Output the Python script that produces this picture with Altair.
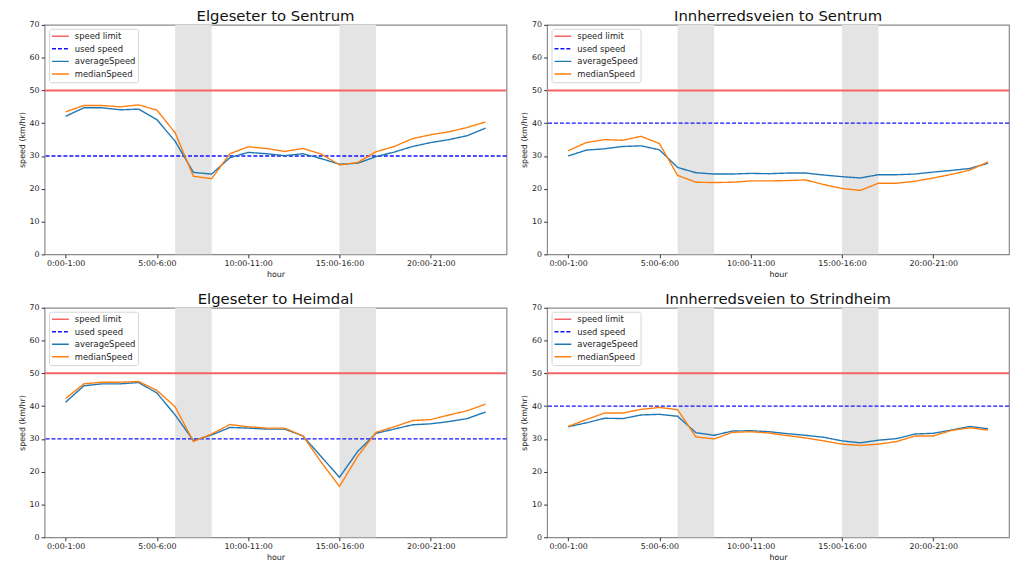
import altair as alt
import pandas as pd

HOURS = list(range(24))
HOUR_LABELS = ["0:00-1:00", "1:00-2:00", "2:00-3:00", "3:00-4:00", "4:00-5:00",
               "5:00-6:00", "6:00-7:00", "7:00-8:00", "8:00-9:00", "9:00-10:00",
               "10:00-11:00", "11:00-12:00", "12:00-13:00", "13:00-14:00",
               "14:00-15:00", "15:00-16:00", "16:00-17:00", "17:00-18:00",
               "18:00-19:00", "19:00-20:00", "20:00-21:00", "21:00-22:00",
               "22:00-23:00", "23:00-24:00"]
TICK_HOURS = [0, 5, 10, 15, 20]
SERIES = ["speed limit", "used speed", "averageSpeed", "medianSpeed"]
SPEED_LIMIT = 50
SHADE_START = [6, 15]
SHADE_END = [8, 17]

TITLES = ["Elgeseter to Sentrum", "Innherredsveien to Sentrum",
          "Elgeseter to Heimdal", "Innherredsveien to Strindheim"]
USED_SPEED = [30, 40, 30, 40]

AVG_ELG_SEN = [42.1, 44.7, 44.7, 44.1, 44.3, 41.1, 34.5, 25.0, 24.5, 29.5, 31.1, 30.7,
               30.1, 30.7, 29.2, 27.5, 27.8, 29.8, 31.2, 32.9, 34.1, 35.0, 36.2, 38.5]
MED_ELG_SEN = [43.5, 45.4, 45.4, 45.0, 45.6, 44.0, 37.1, 23.8, 23.1, 30.7, 32.8, 32.3,
               31.4, 32.3, 30.6, 27.3, 28.0, 31.3, 32.9, 35.3, 36.5, 37.4, 38.7, 40.4]
AVG_INN_SEN = [30.0, 31.8, 32.2, 32.9, 33.1, 31.9, 26.5, 24.9, 24.5, 24.5, 24.7, 24.6,
               24.8, 24.8, 24.2, 23.7, 23.3, 24.3, 24.3, 24.5, 25.1, 25.6, 26.2, 27.8]
MED_INN_SEN = [31.6, 34.1, 35.0, 34.8, 36.0, 33.8, 24.1, 22.0, 21.9, 22.0, 22.4, 22.4,
               22.5, 22.7, 21.3, 20.1, 19.5, 21.7, 21.7, 22.3, 23.3, 24.4, 25.7, 28.2]
AVG_ELG_HEI = [41.2, 46.2, 46.8, 46.8, 47.2, 44.0, 37.3, 29.5, 31.2, 33.5, 33.3, 33.0,
               33.0, 30.9, 24.6, 18.3, 26.2, 31.7, 33.0, 34.3, 34.6, 35.3, 36.2, 38.2]
MED_ELG_HEI = [42.3, 46.8, 47.3, 47.3, 47.5, 44.8, 39.8, 29.2, 31.5, 34.4, 33.7, 33.3,
               33.3, 30.9, 22.9, 15.5, 24.7, 32.0, 33.7, 35.6, 35.9, 37.3, 38.6, 40.6]
AVG_INN_STR = [33.7, 34.9, 36.3, 36.2, 37.3, 37.5, 36.9, 31.9, 31.1, 32.4, 32.5, 32.2,
               31.6, 31.1, 30.5, 29.4, 28.8, 29.6, 30.1, 31.5, 31.7, 32.7, 33.8, 33.1]
MED_INN_STR = [33.8, 35.9, 37.9, 37.9, 39.0, 39.6, 38.9, 30.6, 30.0, 32.0, 32.2, 31.8,
               31.0, 30.3, 29.4, 28.4, 28.0, 28.4, 29.2, 30.9, 30.9, 32.6, 33.4, 32.7]

AVGS = [AVG_ELG_SEN, AVG_INN_SEN, AVG_ELG_HEI, AVG_INN_STR]
MEDS = [MED_ELG_SEN, MED_INN_SEN, MED_ELG_HEI, MED_INN_STR]

W, H = 467, 232
FONT = "DejaVu Sans"
COLORS = ["#f46464", "#1010ff", "#1f77b4", "#ff7f0e"]
DASHES = [[1, 0], [4, 2], [1, 0], [1, 0]]

label_expr = "[" + ",".join("'" + s + "'" for s in HOUR_LABELS) + "][datum.value]"


def legend():
    return alt.Legend(title=None, orient="none", legendX=4.5, legendY=4,
                      symbolType="stroke", symbolSize=289, symbolStrokeWidth=1.5,
                      clipHeight=11, rowPadding=1.7, padding=2, labelOffset=5,
                      labelFont=FONT, labelFontSize=8.5, labelColor="#222",
                      fillColor="rgba(255,255,255,0.8)", strokeColor="#d6d6d6",
                      cornerRadius=2)


def panel(i):
    lines = pd.DataFrame({
        "hour": HOURS * 2,
        "value": AVGS[i] + MEDS[i],
        "series": ["averageSpeed"] * 24 + ["medianSpeed"] * 24,
    })
    limit = pd.DataFrame({"series": ["speed limit"], "value": [SPEED_LIMIT]})
    used = pd.DataFrame({"series": ["used speed"], "value": [USED_SPEED[i]]})
    shades = pd.DataFrame({"start": SHADE_START, "end": SHADE_END})

    xscale = alt.Scale(domain=[-1.15, 24.15], nice=False, zero=False)
    yscale = alt.Scale(domain=[0, 70], nice=False)
    color = alt.Color("series:N", scale=alt.Scale(domain=SERIES, range=COLORS), legend=legend())
    dash = alt.StrokeDash("series:N", scale=alt.Scale(domain=SERIES, range=DASHES), legend=legend())
    xaxis = alt.Axis(values=TICK_HOURS, labelExpr=label_expr, title="hour")
    yaxis = alt.Axis(values=[0, 10, 20, 30, 40, 50, 60, 70], title="speed (km/hr)")

    shade = alt.Chart(shades).mark_rect(color="#e4e4e4").encode(
        x=alt.X("start:Q", scale=xscale, axis=xaxis),
        x2="end:Q",
        y=alt.value(0), y2=alt.value(H),
    )
    r1 = alt.Chart(limit).mark_rule(strokeWidth=2).encode(
        y=alt.Y("value:Q", scale=yscale, axis=yaxis), color=color, strokeDash=dash)
    r2 = alt.Chart(used).mark_rule(strokeWidth=1.3).encode(
        y=alt.Y("value:Q", scale=yscale, axis=yaxis), color=color, strokeDash=dash)
    ln = alt.Chart(lines).mark_line(strokeWidth=1.4).encode(
        x=alt.X("hour:Q", scale=xscale, axis=xaxis),
        y=alt.Y("value:Q", scale=yscale, axis=yaxis),
        color=color, strokeDash=dash)
    return alt.layer(shade, r1, r2, ln).properties(
        width=W, height=H, title=alt.TitleParams(TITLES[i]))


def ind(c):
    return c.resolve_scale(color="independent", strokeDash="independent").resolve_legend(
        color="independent", strokeDash="independent")


row1 = ind(alt.hconcat(panel(0), panel(1), spacing=11))
row2 = ind(alt.hconcat(panel(2), panel(3), spacing=11))
chart = ind(alt.vconcat(row1, row2, spacing=11)).properties(
    padding={"left": 9, "top": -3, "right": 0, "bottom": 0}
).configure_view(stroke="#8a8a8a", strokeWidth=1.2).configure_axis(
    labelFont=FONT, titleFont=FONT, labelFontSize=8, titleFontSize=8,
    titleFontWeight="normal", labelColor="#222", titleColor="#222",
    tickColor="#333", tickSize=3.5, labelPadding=2, titlePadding=3,
    domain=False, grid=False
).configure_title(font=FONT, fontSize=15, fontWeight="normal", color="#111", offset=-3)

chart.save("out.html", embed_options={"renderer": "svg", "actions": False})
